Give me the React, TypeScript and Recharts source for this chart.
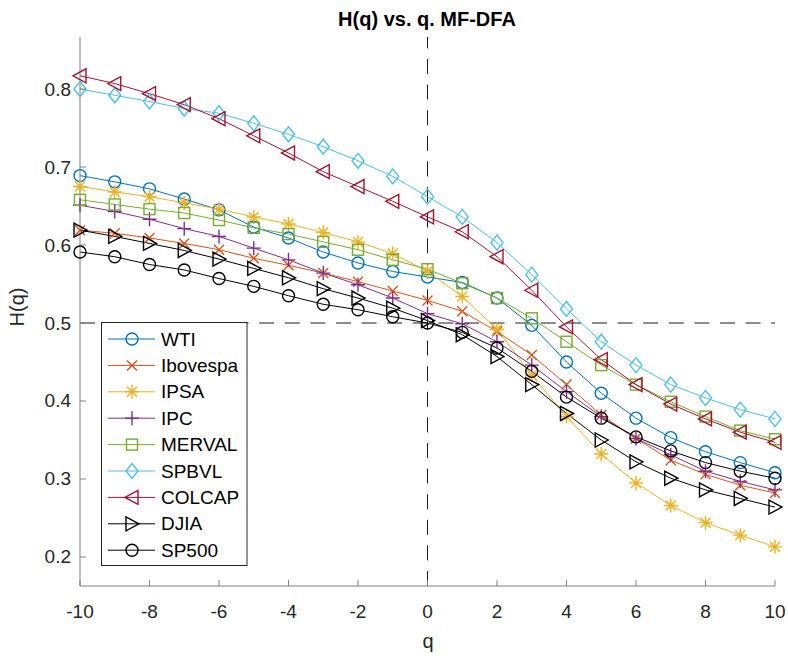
import { LineChart, Line, XAxis, YAxis, ReferenceLine } from 'recharts';

const qValues = [-10, -9, -8, -7, -6, -5, -4, -3, -2, -1, 0, 1, 2, 3, 4, 5, 6, 7, 8, 9, 10];

const wti = [0.689, 0.681, 0.672, 0.659, 0.645, 0.623, 0.609, 0.591, 0.577, 0.566, 0.559, 0.552, 0.532, 0.497, 0.450, 0.410, 0.378, 0.353, 0.335, 0.321, 0.308];
const ibovespa = [0.619, 0.615, 0.609, 0.602, 0.594, 0.583, 0.574, 0.564, 0.553, 0.541, 0.529, 0.515, 0.489, 0.459, 0.421, 0.382, 0.352, 0.324, 0.306, 0.292, 0.282];
const ipsa = [0.675, 0.668, 0.662, 0.654, 0.646, 0.636, 0.627, 0.616, 0.604, 0.589, 0.566, 0.534, 0.492, 0.433, 0.380, 0.332, 0.295, 0.266, 0.244, 0.228, 0.213];
const ipc = [0.651, 0.643, 0.633, 0.621, 0.611, 0.596, 0.581, 0.564, 0.549, 0.532, 0.512, 0.499, 0.476, 0.446, 0.412, 0.380, 0.352, 0.331, 0.310, 0.297, 0.286];
const merval = [0.658, 0.652, 0.646, 0.641, 0.632, 0.622, 0.614, 0.604, 0.594, 0.581, 0.569, 0.551, 0.532, 0.506, 0.476, 0.446, 0.421, 0.399, 0.380, 0.362, 0.351];
const spbvl = [0.800, 0.792, 0.784, 0.775, 0.769, 0.756, 0.742, 0.726, 0.708, 0.688, 0.662, 0.636, 0.603, 0.562, 0.518, 0.476, 0.446, 0.421, 0.404, 0.389, 0.377];
const colcap = [0.817, 0.807, 0.794, 0.780, 0.762, 0.740, 0.718, 0.694, 0.675, 0.656, 0.636, 0.617, 0.585, 0.542, 0.495, 0.453, 0.421, 0.396, 0.377, 0.360, 0.347];
const djia = [0.619, 0.611, 0.602, 0.593, 0.582, 0.570, 0.558, 0.544, 0.532, 0.519, 0.503, 0.485, 0.457, 0.421, 0.384, 0.350, 0.322, 0.301, 0.286, 0.275, 0.264];
const sp500 = [0.591, 0.585, 0.575, 0.568, 0.557, 0.547, 0.535, 0.524, 0.517, 0.508, 0.500, 0.488, 0.468, 0.438, 0.405, 0.378, 0.354, 0.336, 0.321, 0.310, 0.301];

const xTicks = [-10, -8, -6, -4, -2, 0, 2, 4, 6, 8, 10];
const yTicks = [0.2, 0.3, 0.4, 0.5, 0.6, 0.7, 0.8];

type Shape = 'o' | 'x' | '*' | '+' | 's' | 'd' | '<' | '>';

const series: { name: string; values: number[]; color: string; shape: Shape }[] = [
  { name: 'WTI', values: wti, color: '#0072BD', shape: 'o' },
  { name: 'Ibovespa', values: ibovespa, color: '#D95319', shape: 'x' },
  { name: 'IPSA', values: ipsa, color: '#EDB120', shape: '*' },
  { name: 'IPC', values: ipc, color: '#7E2F8E', shape: '+' },
  { name: 'MERVAL', values: merval, color: '#77AC30', shape: 's' },
  { name: 'SPBVL', values: spbvl, color: '#4DBEEE', shape: 'd' },
  { name: 'COLCAP', values: colcap, color: '#A2142F', shape: '<' },
  { name: 'DJIA', values: djia, color: '#000000', shape: '>' },
  { name: 'SP500', values: sp500, color: '#000000', shape: 'o' },
];

const data = qValues.map((q, i) => {
  const row: Record<string, number> = { q };
  series.forEach((s) => {
    row[s.name] = s.values[i];
  });
  return row;
});

const FONT = '"Liberation Sans", Arial, Helvetica, sans-serif';
const TEXT = '#262626';
const AXIS = '#808080';

function Marker({ shape, cx, cy, color }: { shape: Shape; cx: number; cy: number; color: string }) {
  const p = { stroke: color, strokeWidth: 1.4, fill: 'none' };
  switch (shape) {
    case 'o':
      return <circle cx={cx} cy={cy} r={6} {...p} />;
    case 'x':
      return <path d={`M${cx - 5} ${cy - 5}L${cx + 5} ${cy + 5}M${cx - 5} ${cy + 5}L${cx + 5} ${cy - 5}`} {...p} />;
    case '*':
      return (
        <path
          d={`M${cx - 7} ${cy}L${cx + 7} ${cy}M${cx} ${cy - 7}L${cx} ${cy + 7}M${cx - 5} ${cy - 5}L${cx + 5} ${cy + 5}M${cx - 5} ${cy + 5}L${cx + 5} ${cy - 5}`}
          {...p}
        />
      );
    case '+':
      return <path d={`M${cx - 7} ${cy}L${cx + 7} ${cy}M${cx} ${cy - 7}L${cx} ${cy + 7}`} {...p} />;
    case 's':
      return <rect x={cx - 5.5} y={cy - 5.5} width={11} height={11} {...p} />;
    case 'd':
      return <path d={`M${cx} ${cy - 7.5}L${cx + 6} ${cy}L${cx} ${cy + 7.5}L${cx - 6} ${cy}Z`} {...p} />;
    case '<':
      return <path d={`M${cx - 7} ${cy}L${cx + 6} ${cy - 7}L${cx + 6} ${cy + 7}Z`} {...p} />;
    case '>':
      return <path d={`M${cx + 7} ${cy}L${cx - 6} ${cy - 7}L${cx - 6} ${cy + 7}Z`} {...p} />;
  }
  return null;
}

const XTick = ({ x, y, payload }: any) => (
  <g>
    <line x1={x} x2={x} y1={y} y2={y - 6} stroke={AXIS} strokeWidth={1} />
    <text x={x} y={y + 25} textAnchor="middle" dominantBaseline="central" fontFamily={FONT} fontSize={19} fill={TEXT}>
      {payload.value}
    </text>
  </g>
);

const YTick = ({ x, y, payload }: any) => (
  <g>
    <line x1={x} x2={x + 6} y1={y} y2={y} stroke={AXIS} strokeWidth={1} />
    <text x={x - 9} y={y} textAnchor="end" dominantBaseline="central" fontFamily={FONT} fontSize={19} fill={TEXT}>
      {Number(payload.value).toFixed(1)}
    </text>
  </g>
);

function LegendBox() {
  const rowH = 26.4;
  return (
    <svg width={148} height={245} style={{ position: 'absolute', left: 101, top: 322 }}>
      <rect x={0.5} y={0.5} width={145.5} height={243} fill="#fff" stroke={TEXT} strokeWidth={1} />
      {series.map((s, i) => {
        const cy = 17 + i * rowH;
        return (
          <g key={s.name}>
            <line x1={7} x2={54} y1={cy} y2={cy} stroke={s.color} strokeWidth={1} />
            <Marker shape={s.shape} cx={31} cy={cy} color={s.color} />
            <text x={60} y={cy} dominantBaseline="central" fontFamily={FONT} fontSize={19} fill="#000">
              {s.name}
            </text>
          </g>
        );
      })}
    </svg>
  );
}

export default function App() {
  return (
    <div style={{ position: 'absolute', left: 0, top: 0, width: 788, height: 656, background: '#fff' }}>
      <LineChart width={788} height={656} data={data} margin={{ top: 37, right: 13, bottom: 0, left: 0 }}>
        <XAxis
          dataKey="q"
          type="number"
          domain={[-10, 10]}
          ticks={xTicks}
          height={70}
          tickSize={0}
          tickMargin={0}
          tickLine={false}
          axisLine={{ stroke: AXIS, strokeWidth: 1 }}
          tick={<XTick />}
        />
        <YAxis
          type="number"
          domain={[0.1628, 0.8667]}
          allowDataOverflow
          ticks={yTicks}
          width={80}
          tickSize={0}
          tickMargin={0}
          tickLine={false}
          axisLine={{ stroke: AXIS, strokeWidth: 1 }}
          tick={<YTick />}
        />
        <ReferenceLine x={0} stroke="#1a1a1a" strokeWidth={1} strokeDasharray="15 10.6" />
        <ReferenceLine y={0.5} stroke="#1a1a1a" strokeWidth={1} strokeDasharray="15 10.6" />
        {series.map((s) => (
          <Line
            key={s.name}
            dataKey={s.name}
            type="linear"
            stroke={s.color}
            strokeWidth={1}
            isAnimationActive={false}
            activeDot={false}
            dot={(props: any) => (
              <g key={`${s.name}-${props.index}`}>
                <Marker shape={s.shape} cx={props.cx} cy={props.cy} color={s.color} />
              </g>
            )}
          />
        ))}
      </LineChart>
      <svg width={788} height={656} style={{ position: 'absolute', left: 0, top: 0, pointerEvents: 'none' }}>
        <text x={427} y={19} textAnchor="middle" dominantBaseline="central" fontFamily={FONT} fontSize={20} fontWeight="bold" fill="#000">
          H(q) vs. q. MF-DFA
        </text>
        <text x={428} y={641} textAnchor="middle" dominantBaseline="central" fontFamily={FONT} fontSize={20} fill={TEXT}>
          q
        </text>
        <text
          x={0}
          y={0}
          transform="translate(17 307) rotate(-90)"
          textAnchor="middle"
          dominantBaseline="central"
          fontFamily={FONT}
          fontSize={20}
          fill={TEXT}
        >
          H(q)
        </text>
      </svg>
      <LegendBox />
    </div>
  );
}
